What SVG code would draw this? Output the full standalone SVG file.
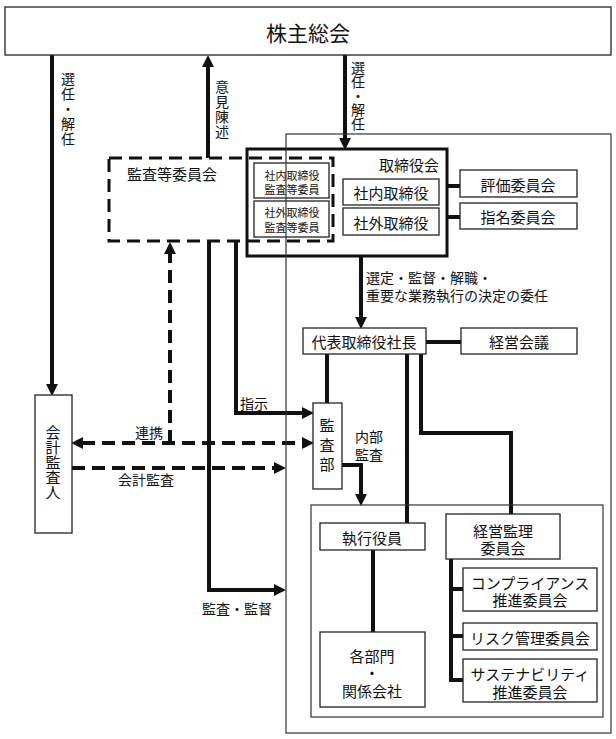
<svg xmlns="http://www.w3.org/2000/svg" width="616" height="739" viewBox="0 0 616 739">
<style>
.box{fill:#fff;stroke:#222;stroke-width:1.3}
.tbox{fill:#fff;stroke:#111;stroke-width:3}
.dbox{fill:none;stroke:#111;stroke-width:3;stroke-dasharray:13 7}
.ln{fill:none;stroke:#111;stroke-width:4}
.dl{fill:none;stroke:#111;stroke-width:4;stroke-dasharray:13 7}
.frame{fill:none;stroke:#333;stroke-width:1.2}
text{font-family:"Noto Sans CJK JP","Noto Sans",sans-serif;fill:#111;dominant-baseline:central;font-size:15px}
.c{text-anchor:middle}
.s{font-size:11px}
.m{font-size:14px}
.v{writing-mode:vertical-rl;text-anchor:start}
</style>
<defs>
<marker id="ah" markerUnits="userSpaceOnUse" markerWidth="12" markerHeight="12" viewBox="0 0 11 11" refX="1" refY="5.5" orient="auto-start-reverse">
<path d="M0,0 L11,5.5 L0,11 z" fill="#111"/>
</marker>
</defs>
<rect width="616" height="739" fill="#fff"/>

<g id="connectors">
<path class="ln" d="M52,55 V385" marker-end="url(#ah)"/>
<path class="ln" d="M208,158 V66" marker-end="url(#ah)"/>
<path class="ln" d="M345,55 V139" marker-end="url(#ah)"/>
<path class="ln" d="M361,256 V318" marker-end="url(#ah)"/>
<path class="ln" d="M236,242 V413 H303" marker-end="url(#ah)"/>
<path class="ln" d="M209,242 V590 H275" marker-end="url(#ah)"/>
<path class="ln" d="M342,465 H361 V495" marker-end="url(#ah)"/>
<path class="dl" d="M170,443 V253" marker-end="url(#ah)"/>
<path class="dl" d="M82,443 H303" marker-start="url(#ah)" marker-end="url(#ah)"/>
<path class="dl" d="M72,468 H275" marker-end="url(#ah)"/>
<path class="ln" d="M447,186 H460 M447,217 H460"/>
<path class="ln" d="M426,342 H461"/>
<path class="ln" d="M327,354 V403"/>
<path class="ln" d="M407,354 V523"/>
<path class="ln" d="M421,354 V433 H511 V514"/>
<path class="ln" d="M373,550 V632"/>
<path class="ln" d="M451,559 V680 H463 M451,589 H463 M451,636 H463"/>
</g>

<g id="labels">
<text class="m v" x="68" y="72" style="letter-spacing:1px">選任・解任</text>
<text class="m v" x="222" y="80" style="letter-spacing:1px">意見陳述</text>
<text class="m v" x="358" y="61">選任・解任</text>
<text class="m" x="366" y="277">選定・監督・解職・<tspan x="366" dy="18">重要な業務執行の決定の委任</tspan></text>
<text class="m" x="240" y="403">指示</text>
<text class="m" x="135" y="432">連携</text>
<text class="m" x="118" y="479">会計監査</text>
<text class="m" x="355" y="436">内部<tspan x="355" dy="18">監査</tspan></text>
<text class="m c" x="237" y="608">監査・監督</text>
</g>

<g id="n-soukai">
<rect class="box" x="5" y="7" width="606" height="48"/>
<text class="c" x="308" y="32" style="font-size:21px">株主総会</text>
</g>

<g id="n-torishimariyakukai">
<rect class="tbox" x="247" y="149" width="200" height="107"/>
<text class="c" x="409" y="164">取締役会</text>
</g>

<g id="n-kansatou">
<rect class="dbox" x="109" y="158" width="224" height="83"/>
<text x="127" y="173">監査等委員会</text>
</g>

<g id="n-shanai-kansa">
<rect class="box" x="254" y="163" width="75" height="35"/>
<text class="s c" x="292" y="175">社内取締役<tspan x="292" dy="14">監査等委員</tspan></text>
</g>
<g id="n-shagai-kansa">
<rect class="box" x="254" y="201" width="75" height="36"/>
<text class="s c" x="292" y="212">社外取締役<tspan x="292" dy="15">監査等委員</tspan></text>
</g>
<g id="n-shanai">
<rect class="box" x="343" y="179" width="96" height="26"/>
<text class="c" x="391" y="192">社内取締役</text>
</g>
<g id="n-shagai">
<rect class="box" x="343" y="208" width="96" height="27"/>
<text class="c" x="391" y="222">社外取締役</text>
</g>
<g id="n-hyouka">
<rect class="box" x="460" y="170" width="117" height="27"/>
<text class="c" x="518" y="184">評価委員会</text>
</g>
<g id="n-shimei">
<rect class="box" x="460" y="203" width="117" height="26"/>
<text class="c" x="518" y="216">指名委員会</text>
</g>

<g id="n-shachou">
<rect class="box" x="303" y="328" width="123" height="26"/>
<text class="c" x="364" y="341">代表取締役社長</text>
</g>
<g id="n-keieikaigi">
<rect class="box" x="461" y="328" width="116" height="26"/>
<text class="c" x="519" y="341">経営会議</text>
</g>

<g id="n-kansabu">
<rect class="box" x="313" y="403" width="29" height="86"/>
<text class="v" x="327" y="418" style="letter-spacing:4.5px">監査部</text>
</g>

<g id="n-kaikeikansanin">
<rect class="box" x="35" y="395" width="37" height="138"/>
<text class="v" x="53" y="425">会計監査人</text>
</g>

<g id="frame-inner">
<rect class="frame" x="311" y="505" width="292" height="212"/>
</g>

<g id="n-shikkou">
<rect class="box" x="320" y="523" width="105" height="27"/>
<text class="c" x="372" y="537">執行役員</text>
</g>
<g id="n-kakubumon">
<rect class="box" x="320" y="632" width="105" height="75"/>
<text class="c" x="372" y="655">各部門<tspan x="372" dy="17">・</tspan><tspan x="372" dy="18">関係会社</tspan></text>
</g>
<g id="n-keieikanri">
<rect class="box" x="446" y="514" width="114" height="45"/>
<text class="c" x="503" y="530">経営監理<tspan x="503" dy="17">委員会</tspan></text>
</g>
<g id="n-compliance">
<rect class="box" x="463" y="568" width="134" height="43"/>
<text class="c" x="530" y="582">コンプライアンス<tspan x="530" dy="17">推進委員会</tspan></text>
</g>
<g id="n-risk">
<rect class="box" x="463" y="623" width="134" height="27"/>
<text class="c" x="530" y="637">リスク管理委員会</text>
</g>
<g id="n-sustain">
<rect class="box" x="463" y="659" width="134" height="43"/>
<text class="c" x="530" y="673">サステナビリティ<tspan x="530" dy="18">推進委員会</tspan></text>
</g>

<g id="frame-outer">
<rect class="frame" x="286" y="134" width="325" height="599"/>
</g>
</svg>
